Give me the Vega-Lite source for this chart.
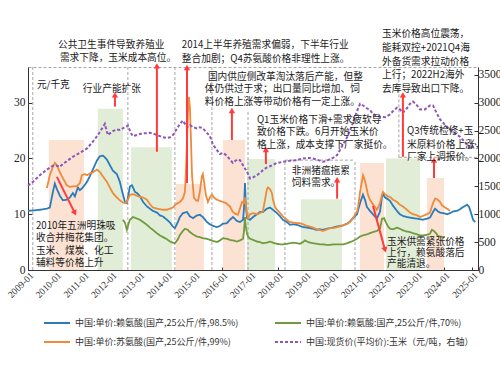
{
  "$schema": "https://vega.github.io/schema/vega-lite/v6.json",
  "width": 450,
  "height": 203,
  "autosize": {"type": "none"},
  "padding": {"left": 28, "top": 67, "right": 22, "bottom": 97},
  "background": "white",
  "title": {"text": "图18：氨基酸价格复盘：短期主要受供需扰动，长期与原材料玉米价格走势趋同", "anchor": "start", "frame": "group", "offset": 41, "dx": -20, "dy": 3, "fontSize": 13, "fontWeight": "bold", "font": "Noto Sans CJK SC", "color": "#000000"},
  "config": {
    "font": "Noto Sans CJK SC",
    "view": {"stroke": "#a6a6a6", "strokeDash": [3, 2], "strokeWidth": 1}
  },
  "datasets": {
    "rects": [
      {"d": "2009-10-03", "d2": "2011-01-07", "top": 23.3, "trend": "上涨"},
      {"d": "2011-07-09", "d2": "2012-06-03", "top": 28.9, "trend": "下跌"},
      {"d": "2012-09-17", "d2": "2014-03-09", "top": 22.0, "trend": "下跌"},
      {"d": "2014-05-01", "d2": "2015-05-04", "top": 15.4, "trend": "上涨"},
      {"d": "2016-01-10", "d2": "2016-10-26", "top": 23.3, "trend": "上涨"},
      {"d": "2016-11-22", "d2": "2017-11-25", "top": 19.9, "trend": "下跌"},
      {"d": "2018-11-02", "d2": "2020-04-24", "top": 12.7, "trend": "下跌"},
      {"d": "2020-12-18", "d2": "2021-10-29", "top": 19.2, "trend": "上涨"},
      {"d": "2021-11-25", "d2": "2023-02-16", "top": 20.0, "trend": "下跌"},
      {"d": "2023-05-17", "d2": "2023-12-28", "top": 16.5, "trend": "上涨"}
    ],
    "frames": [
      {"d": "2009-03-05", "d2": "2009-03-05", "v": 0, "v2": 36.4},
      {"d": "2012-08-07", "d2": "2012-08-07", "v": 0, "v2": 36.4},
      {"d": "2014-04-18", "d2": "2014-04-18", "v": 0, "v2": 36.4},
      {"d": "2015-08-18", "d2": "2015-08-18", "v": 0, "v2": 36.4},
      {"d": "2016-12-05", "d2": "2016-12-05", "v": 0, "v2": 28.5},
      {"d": "2018-04-05", "d2": "2018-04-05", "v": 0, "v2": 19.7},
      {"d": "2020-10-13", "d2": "2020-10-13", "v": 0, "v2": 19.7},
      {"d": "2018-04-05", "d2": "2020-10-13", "v": 19.7, "v2": 19.7},
      {"d": "2022-05-13", "d2": "2022-05-13", "v": 20.2, "v2": 36.4},
      {"d": "2022-05-13", "d2": "2025-03-19", "v": 20.2, "v2": 20.2}
    ],
    "arrows": [
      {"d": "2012-02-19", "d2": "2012-02-19", "v": 29.3, "v2": 31.4},
      {"d": "2013-08-24", "d2": "2013-08-24", "v": 21.2, "v2": 36.6},
      {"d": "2014-09-24", "d2": "2014-09-24", "v": 15.6, "v2": 36.3},
      {"d": "2016-05-07", "d2": "2016-05-07", "v": 23.3, "v2": 28.6},
      {"d": "2017-07-28", "d2": "2017-07-28", "v": 19.0, "v2": 21.6},
      {"d": "2020-02-20", "d2": "2020-02-20", "v": 12.8, "v2": 16.2},
      {"d": "2022-07-05", "d2": "2022-07-05", "v": 20.3, "v2": 31.4},
      {"d": "2023-08-18", "d2": "2023-08-18", "v": 16.5, "v2": 19.7},
      {"d": "2010-01-16", "d2": "2010-09-10", "v": 16.7, "v2": 10.2},
      {"d": "2021-06-06", "d2": "2021-11-12", "v": 11.5, "v2": 3.6}
    ],
    "notes": [
      {"d": "2010-01-30", "v": 40.35, "t": "公共卫生事件导致养殖业"},
      {"d": "2010-02-25", "v": 38.0, "t": "需求下降，玉米成本高位。"},
      {"d": "2014-07-18", "v": 40.35, "t": "2014上半年养殖需求偏弱，下半年行业"},
      {"d": "2014-07-18", "v": 37.8, "t": "整合加剧；Q4苏氨酸价格非理性上涨。"},
      {"d": "2015-06-26", "v": 34.6, "t": "国内供应侧改革淘汰落后产能，但整"},
      {"d": "2015-05-17", "v": 32.5, "t": "体仍供过于求；出口量同比增加、饲"},
      {"d": "2015-05-17", "v": 30.2, "t": "料价格上涨等带动价格有一定上涨。"},
      {"d": "2017-04-01", "v": 26.9, "t": "Q1玉米价格下滑+需求疲软导"},
      {"d": "2017-04-01", "v": 24.7, "t": "致价格下跌。6月开始玉米价"},
      {"d": "2017-04-01", "v": 22.4, "t": "格上涨，成本支撑下厂家挺价。"},
      {"d": "2010-12-24", "v": 32.5, "t": "行业产能扩张"},
      {"d": "2009-04-28", "v": 33.2, "t": "元/千克"},
      {"d": "2009-04-15", "v": 7.9, "t": "2010年五洲明珠吸"},
      {"d": "2009-04-15", "v": 5.7, "t": "收合并梅花集团。"},
      {"d": "2009-04-15", "v": 3.4, "t": "玉米、煤炭、化工"},
      {"d": "2009-04-15", "v": 1.25, "t": "辅料等价格上升"},
      {"d": "2018-07-05", "v": 17.8, "t": "非洲猪瘟拖累"},
      {"d": "2018-07-05", "v": 15.6, "t": "饲料需求。"},
      {"d": "2021-10-03", "v": 42.3, "t": "玉米价格高位震荡，"},
      {"d": "2021-10-03", "v": 39.8, "t": "能耗双控+2021Q4海"},
      {"d": "2021-10-03", "v": 37.3, "t": "外备货需求拉动价格"},
      {"d": "2021-10-03", "v": 35.0, "t": "上行；2022H2海外"},
      {"d": "2021-10-03", "v": 32.5, "t": "去库导致出口下降。"},
      {"d": "2022-08-27", "v": 24.9, "t": "Q3传统检修+玉"},
      {"d": "2022-08-27", "v": 22.4, "t": "米原料价格上涨，"},
      {"d": "2022-08-27", "v": 20.3, "t": "厂家上调报价。"},
      {"d": "2021-12-08", "v": 5.0, "t": "玉米供需紧张价格"},
      {"d": "2021-12-08", "v": 3.05, "t": "上行，赖氨酸落后"},
      {"d": "2021-12-08", "v": 1.1, "t": "产能清退。"}
    ],
    "lys985": [
      {"d": "2009-01-01", "v": 10.6}, {"d": "2009-04-01", "v": 10.7}, {"d": "2009-06-06", "v": 10.8}, {"d": "2009-09-07", "v": 11.0},
      {"d": "2009-10-15", "v": 11.2}, {"d": "2009-11-25", "v": 14.0}, {"d": "2009-12-20", "v": 15.5}, {"d": "2010-01-16", "v": 14.5},
      {"d": "2010-02-25", "v": 13.3}, {"d": "2010-04-04", "v": 12.5}, {"d": "2010-05-26", "v": 12.6}, {"d": "2010-07-05", "v": 13.0},
      {"d": "2010-08-14", "v": 13.8}, {"d": "2010-09-10", "v": 13.2}, {"d": "2010-10-19", "v": 14.8}, {"d": "2010-11-15", "v": 14.3},
      {"d": "2010-12-24", "v": 14.8}, {"d": "2011-02-16", "v": 15.8}, {"d": "2011-03-25", "v": 16.8}, {"d": "2011-05-04", "v": 18.0},
      {"d": "2011-06-26", "v": 19.6}, {"d": "2011-08-04", "v": 20.4}, {"d": "2011-09-13", "v": 20.5}, {"d": "2011-10-09", "v": 20.2},
      {"d": "2011-11-05", "v": 19.8}, {"d": "2011-12-14", "v": 18.8}, {"d": "2012-01-23", "v": 17.8}, {"d": "2012-03-15", "v": 17.2},
      {"d": "2012-04-24", "v": 15.8}, {"d": "2012-05-20", "v": 14.3}, {"d": "2012-06-29", "v": 12.2}, {"d": "2012-07-25", "v": 12.0},
      {"d": "2012-09-04", "v": 15.0}, {"d": "2012-09-30", "v": 15.2}, {"d": "2012-11-09", "v": 14.0}, {"d": "2012-12-05", "v": 13.8},
      {"d": "2013-01-14", "v": 13.2}, {"d": "2013-02-23", "v": 12.2}, {"d": "2013-04-15", "v": 11.4}, {"d": "2013-05-24", "v": 11.0},
      {"d": "2013-07-02", "v": 10.6}, {"d": "2013-08-24", "v": 10.3}, {"d": "2013-10-03", "v": 9.8}, {"d": "2013-11-12", "v": 9.6},
      {"d": "2014-01-04", "v": 9.0}, {"d": "2014-02-13", "v": 8.5}, {"d": "2014-03-22", "v": 7.8}, {"d": "2014-04-18", "v": 7.5},
      {"d": "2014-05-27", "v": 8.6}, {"d": "2014-06-23", "v": 9.5}, {"d": "2014-08-01", "v": 10.2}, {"d": "2014-09-24", "v": 10.4},
      {"d": "2014-11-02", "v": 9.6}, {"d": "2014-12-11", "v": 9.3}, {"d": "2015-02-03", "v": 9.8}, {"d": "2015-03-12", "v": 9.9},
      {"d": "2015-04-21", "v": 9.5}, {"d": "2015-06-13", "v": 8.6}, {"d": "2015-07-22", "v": 8.2}, {"d": "2015-09-01", "v": 7.9},
      {"d": "2015-10-23", "v": 7.7}, {"d": "2015-12-01", "v": 7.9}, {"d": "2016-01-10", "v": 8.3}, {"d": "2016-03-02", "v": 8.4},
      {"d": "2016-04-11", "v": 9.0}, {"d": "2016-05-20", "v": 9.5}, {"d": "2016-07-12", "v": 8.8}, {"d": "2016-08-21", "v": 8.6},
      {"d": "2016-09-30", "v": 9.0}, {"d": "2016-10-13", "v": 11.0}, {"d": "2016-10-26", "v": 15.6}, {"d": "2016-11-09", "v": 11.0},
      {"d": "2016-11-22", "v": 9.3}, {"d": "2017-01-01", "v": 9.0}, {"d": "2017-02-10", "v": 9.5}, {"d": "2017-04-01", "v": 10.0},
      {"d": "2017-05-10", "v": 10.4}, {"d": "2017-06-19", "v": 10.4}, {"d": "2017-08-11", "v": 11.0}, {"d": "2017-09-20", "v": 11.2},
      {"d": "2017-10-29", "v": 10.8}, {"d": "2017-12-21", "v": 10.2}, {"d": "2018-02-01", "v": 9.6}, {"d": "2018-03-09", "v": 9.0},
      {"d": "2018-05-01", "v": 8.6}, {"d": "2018-06-10", "v": 8.1}, {"d": "2018-07-18", "v": 8.2}, {"d": "2018-09-10", "v": 8.1},
      {"d": "2018-10-19", "v": 7.9}, {"d": "2018-11-29", "v": 7.7}, {"d": "2019-01-20", "v": 7.6}, {"d": "2019-02-28", "v": 7.5},
      {"d": "2019-04-08", "v": 7.4}, {"d": "2019-05-30", "v": 7.2}, {"d": "2019-07-09", "v": 7.3}, {"d": "2019-08-18", "v": 7.2},
      {"d": "2019-10-10", "v": 7.4}, {"d": "2019-11-19", "v": 7.5}, {"d": "2019-12-28", "v": 7.6}, {"d": "2020-02-20", "v": 7.8},
      {"d": "2020-03-29", "v": 7.9}, {"d": "2020-05-07", "v": 8.0}, {"d": "2020-06-30", "v": 8.3}, {"d": "2020-08-08", "v": 8.7},
      {"d": "2020-09-17", "v": 9.3}, {"d": "2020-11-09", "v": 10.0}, {"d": "2020-12-18", "v": 12.0}, {"d": "2021-01-13", "v": 13.0},
      {"d": "2021-01-26", "v": 13.5}, {"d": "2021-02-23", "v": 12.5}, {"d": "2021-03-18", "v": 11.3}, {"d": "2021-04-27", "v": 10.6},
      {"d": "2021-06-06", "v": 10.0}, {"d": "2021-07-28", "v": 9.2}, {"d": "2021-09-07", "v": 10.5}, {"d": "2021-10-03", "v": 13.2},
      {"d": "2021-10-16", "v": 13.6}, {"d": "2021-11-12", "v": 13.0}, {"d": "2021-12-08", "v": 12.8}, {"d": "2022-01-16", "v": 12.4},
      {"d": "2022-02-26", "v": 11.5}, {"d": "2022-04-18", "v": 10.6}, {"d": "2022-05-26", "v": 10.0}, {"d": "2022-07-05", "v": 9.7},
      {"d": "2022-08-27", "v": 9.5}, {"d": "2022-10-06", "v": 9.4}, {"d": "2022-11-15", "v": 9.3}, {"d": "2023-01-07", "v": 9.2},
      {"d": "2023-02-16", "v": 9.1}, {"d": "2023-03-25", "v": 9.0}, {"d": "2023-05-17", "v": 9.2}, {"d": "2023-06-26", "v": 9.4},
      {"d": "2023-08-05", "v": 10.4}, {"d": "2023-09-01", "v": 11.0}, {"d": "2023-10-10", "v": 10.5}, {"d": "2023-11-06", "v": 10.3},
      {"d": "2023-12-15", "v": 10.2}, {"d": "2024-02-07", "v": 10.0}, {"d": "2024-03-16", "v": 10.2}, {"d": "2024-04-25", "v": 10.5},
      {"d": "2024-06-16", "v": 10.6}, {"d": "2024-07-25", "v": 10.9}, {"d": "2024-09-04", "v": 11.3}, {"d": "2024-10-26", "v": 11.7},
      {"d": "2024-11-22", "v": 11.3}, {"d": "2024-12-18", "v": 10.2}, {"d": "2025-01-14", "v": 9.0}, {"d": "2025-02-10", "v": 8.6}
    ],
    "thr": [
      {"d": "2009-09-07", "v": 14.7}, {"d": "2009-10-15", "v": 17.0}, {"d": "2009-11-25", "v": 18.5}, {"d": "2009-12-20", "v": 19.2},
      {"d": "2010-01-16", "v": 18.8}, {"d": "2010-02-25", "v": 17.5}, {"d": "2010-04-04", "v": 16.5}, {"d": "2010-05-26", "v": 15.2},
      {"d": "2010-07-05", "v": 14.9}, {"d": "2010-08-14", "v": 15.0}, {"d": "2010-10-06", "v": 15.0}, {"d": "2010-11-15", "v": 15.6},
      {"d": "2010-12-11", "v": 17.0}, {"d": "2011-01-20", "v": 17.2}, {"d": "2011-02-16", "v": 17.0}, {"d": "2011-03-25", "v": 17.3},
      {"d": "2011-05-04", "v": 17.5}, {"d": "2011-06-26", "v": 18.0}, {"d": "2011-08-04", "v": 17.6}, {"d": "2011-09-13", "v": 16.8},
      {"d": "2011-11-05", "v": 15.8}, {"d": "2011-12-14", "v": 14.8}, {"d": "2012-01-23", "v": 13.8}, {"d": "2012-03-15", "v": 13.0},
      {"d": "2012-04-24", "v": 12.5}, {"d": "2012-06-03", "v": 12.1}, {"d": "2012-06-29", "v": 12.0}, {"d": "2012-07-25", "v": 12.2},
      {"d": "2012-09-04", "v": 13.5}, {"d": "2012-10-13", "v": 13.6}, {"d": "2012-12-05", "v": 13.3}, {"d": "2013-01-14", "v": 13.1},
      {"d": "2013-02-23", "v": 13.0}, {"d": "2013-04-15", "v": 12.6}, {"d": "2013-05-24", "v": 11.8}, {"d": "2013-07-02", "v": 11.2},
      {"d": "2013-08-24", "v": 11.0}, {"d": "2013-10-03", "v": 10.9}, {"d": "2013-11-12", "v": 10.8}, {"d": "2014-01-04", "v": 10.8},
      {"d": "2014-02-13", "v": 11.0}, {"d": "2014-03-22", "v": 11.2}, {"d": "2014-05-01", "v": 11.8}, {"d": "2014-05-27", "v": 12.0},
      {"d": "2014-06-23", "v": 12.2}, {"d": "2014-08-01", "v": 12.8}, {"d": "2014-08-28", "v": 14.0}, {"d": "2014-09-11", "v": 18.0},
      {"d": "2014-09-24", "v": 23.0}, {"d": "2014-10-06", "v": 28.0}, {"d": "2014-10-19", "v": 31.0}, {"d": "2014-11-02", "v": 29.0},
      {"d": "2014-11-16", "v": 23.0}, {"d": "2014-11-29", "v": 17.0}, {"d": "2014-12-24", "v": 13.0}, {"d": "2015-01-20", "v": 12.5},
      {"d": "2015-02-16", "v": 12.4}, {"d": "2015-03-12", "v": 14.0}, {"d": "2015-04-08", "v": 16.8}, {"d": "2015-04-21", "v": 17.2},
      {"d": "2015-05-04", "v": 16.0}, {"d": "2015-05-30", "v": 13.5}, {"d": "2015-06-26", "v": 12.2}, {"d": "2015-07-22", "v": 13.0},
      {"d": "2015-08-18", "v": 13.5}, {"d": "2015-09-14", "v": 13.0}, {"d": "2015-10-23", "v": 12.6}, {"d": "2015-12-01", "v": 12.4},
      {"d": "2016-01-10", "v": 12.2}, {"d": "2016-02-19", "v": 12.0}, {"d": "2016-03-15", "v": 11.7}, {"d": "2016-04-11", "v": 11.4},
      {"d": "2016-05-20", "v": 10.4}, {"d": "2016-06-29", "v": 10.0}, {"d": "2016-07-25", "v": 9.9}, {"d": "2016-08-21", "v": 11.0},
      {"d": "2016-09-17", "v": 12.2}, {"d": "2016-10-13", "v": 12.0}, {"d": "2016-10-26", "v": 13.0}, {"d": "2016-11-22", "v": 10.0},
      {"d": "2016-12-05", "v": 9.3}, {"d": "2017-01-01", "v": 10.0}, {"d": "2017-02-10", "v": 10.2}, {"d": "2017-04-01", "v": 10.0},
      {"d": "2017-05-10", "v": 10.2}, {"d": "2017-06-19", "v": 10.5}, {"d": "2017-07-15", "v": 12.5}, {"d": "2017-08-11", "v": 14.5},
      {"d": "2017-08-24", "v": 14.8}, {"d": "2017-09-20", "v": 14.5}, {"d": "2017-10-15", "v": 13.8}, {"d": "2017-10-29", "v": 12.6},
      {"d": "2017-11-25", "v": 11.3}, {"d": "2017-12-21", "v": 10.8}, {"d": "2018-02-01", "v": 10.2}, {"d": "2018-03-09", "v": 9.6},
      {"d": "2018-05-01", "v": 9.0}, {"d": "2018-06-10", "v": 8.6}, {"d": "2018-07-18", "v": 8.5}, {"d": "2018-09-10", "v": 8.4},
      {"d": "2018-10-19", "v": 8.4}, {"d": "2018-11-29", "v": 8.2}, {"d": "2019-01-20", "v": 7.9}, {"d": "2019-02-28", "v": 7.8},
      {"d": "2019-04-08", "v": 7.6}, {"d": "2019-05-30", "v": 7.3}, {"d": "2019-07-09", "v": 7.2}, {"d": "2019-08-18", "v": 7.0},
      {"d": "2019-10-10", "v": 7.3}, {"d": "2019-11-19", "v": 7.5}, {"d": "2019-12-28", "v": 7.5}, {"d": "2020-02-20", "v": 7.7},
      {"d": "2020-03-29", "v": 7.8}, {"d": "2020-05-07", "v": 8.0}, {"d": "2020-06-30", "v": 8.3}, {"d": "2020-08-08", "v": 8.6},
      {"d": "2020-09-17", "v": 9.3}, {"d": "2020-10-13", "v": 9.9}, {"d": "2020-11-09", "v": 10.5}, {"d": "2020-11-22", "v": 11.3},
      {"d": "2020-12-18", "v": 14.0}, {"d": "2021-01-13", "v": 16.0}, {"d": "2021-01-26", "v": 17.0}, {"d": "2021-02-10", "v": 16.5},
      {"d": "2021-03-05", "v": 15.3}, {"d": "2021-04-01", "v": 13.5}, {"d": "2021-04-27", "v": 12.6}, {"d": "2021-06-06", "v": 11.8},
      {"d": "2021-07-02", "v": 11.3}, {"d": "2021-07-28", "v": 10.8}, {"d": "2021-09-07", "v": 12.0}, {"d": "2021-10-03", "v": 13.5},
      {"d": "2021-10-16", "v": 14.0}, {"d": "2021-11-12", "v": 13.6}, {"d": "2021-12-21", "v": 13.2}, {"d": "2022-01-16", "v": 13.1},
      {"d": "2022-02-26", "v": 12.6}, {"d": "2022-04-18", "v": 12.2}, {"d": "2022-05-26", "v": 11.7}, {"d": "2022-07-05", "v": 11.4},
      {"d": "2022-08-27", "v": 10.8}, {"d": "2022-10-06", "v": 10.3}, {"d": "2022-11-15", "v": 10.0}, {"d": "2023-01-07", "v": 9.8},
      {"d": "2023-02-16", "v": 9.5}, {"d": "2023-03-25", "v": 9.7}, {"d": "2023-05-17", "v": 10.0}, {"d": "2023-06-26", "v": 10.3},
      {"d": "2023-08-05", "v": 12.0}, {"d": "2023-09-01", "v": 12.8}, {"d": "2023-09-27", "v": 12.7}, {"d": "2023-11-06", "v": 12.2},
      {"d": "2023-12-02", "v": 11.6}, {"d": "2024-01-10", "v": 11.2}, {"d": "2024-02-07", "v": 11.0}, {"d": "2024-03-16", "v": 10.6}
    ],
    "lys70": [
      {"d": "2012-06-03", "v": 9.0}, {"d": "2012-06-29", "v": 8.5}, {"d": "2012-07-25", "v": 7.2}, {"d": "2012-08-21", "v": 8.5},
      {"d": "2012-09-04", "v": 9.0}, {"d": "2012-10-13", "v": 9.5}, {"d": "2012-11-22", "v": 9.3}, {"d": "2013-01-14", "v": 9.0},
      {"d": "2013-02-23", "v": 8.6}, {"d": "2013-04-15", "v": 8.1}, {"d": "2013-05-24", "v": 7.6}, {"d": "2013-07-02", "v": 7.2},
      {"d": "2013-08-24", "v": 6.6}, {"d": "2013-10-03", "v": 6.2}, {"d": "2013-11-12", "v": 5.9}, {"d": "2014-01-04", "v": 5.5},
      {"d": "2014-02-13", "v": 5.1}, {"d": "2014-03-22", "v": 4.9}, {"d": "2014-04-18", "v": 4.8}, {"d": "2014-05-27", "v": 5.5},
      {"d": "2014-06-23", "v": 6.3}, {"d": "2014-08-01", "v": 7.0}, {"d": "2014-08-28", "v": 7.4}, {"d": "2014-10-06", "v": 7.2},
      {"d": "2014-11-02", "v": 6.8}, {"d": "2014-12-11", "v": 6.4}, {"d": "2015-02-03", "v": 6.0}, {"d": "2015-03-12", "v": 5.9},
      {"d": "2015-04-21", "v": 5.7}, {"d": "2015-06-13", "v": 5.6}, {"d": "2015-07-22", "v": 5.4}, {"d": "2015-09-01", "v": 5.2},
      {"d": "2015-10-23", "v": 5.0}, {"d": "2015-12-01", "v": 5.3}, {"d": "2016-01-10", "v": 5.7}, {"d": "2016-03-02", "v": 5.6},
      {"d": "2016-04-11", "v": 5.4}, {"d": "2016-05-20", "v": 5.3}, {"d": "2016-07-12", "v": 5.1}, {"d": "2016-08-21", "v": 5.3},
      {"d": "2016-09-30", "v": 5.6}, {"d": "2016-10-13", "v": 7.0}, {"d": "2016-10-26", "v": 9.5}, {"d": "2016-11-09", "v": 7.5},
      {"d": "2016-11-22", "v": 6.5}, {"d": "2016-12-05", "v": 6.0}, {"d": "2017-01-01", "v": 5.6}, {"d": "2017-02-10", "v": 5.4},
      {"d": "2017-04-01", "v": 5.1}, {"d": "2017-05-10", "v": 5.0}, {"d": "2017-06-19", "v": 4.8}, {"d": "2017-08-11", "v": 4.9},
      {"d": "2017-09-20", "v": 5.1}, {"d": "2017-10-29", "v": 4.9}, {"d": "2017-12-21", "v": 4.7}, {"d": "2018-02-01", "v": 4.6},
      {"d": "2018-03-09", "v": 4.6}, {"d": "2018-05-01", "v": 4.7}, {"d": "2018-06-10", "v": 4.8}, {"d": "2018-07-18", "v": 4.9},
      {"d": "2018-09-10", "v": 4.8}, {"d": "2018-10-19", "v": 4.7}, {"d": "2018-11-29", "v": 5.0}, {"d": "2018-12-24", "v": 5.3},
      {"d": "2019-01-20", "v": 5.1}, {"d": "2019-02-28", "v": 4.9}, {"d": "2019-04-08", "v": 4.8}, {"d": "2019-05-30", "v": 4.7},
      {"d": "2019-07-09", "v": 4.6}, {"d": "2019-08-18", "v": 4.6}, {"d": "2019-10-10", "v": 4.5}, {"d": "2019-11-19", "v": 4.5},
      {"d": "2019-12-28", "v": 4.6}, {"d": "2020-02-20", "v": 4.6}, {"d": "2020-03-29", "v": 4.6}, {"d": "2020-05-07", "v": 4.6},
      {"d": "2020-06-30", "v": 4.8}, {"d": "2020-08-08", "v": 5.0}, {"d": "2020-09-17", "v": 5.2}, {"d": "2020-11-09", "v": 5.6},
      {"d": "2020-12-18", "v": 6.0}, {"d": "2021-01-26", "v": 6.2}, {"d": "2021-03-18", "v": 6.4}, {"d": "2021-04-27", "v": 6.6},
      {"d": "2021-06-06", "v": 6.8}, {"d": "2021-07-28", "v": 7.0}, {"d": "2021-09-07", "v": 7.5}, {"d": "2021-10-03", "v": 9.2},
      {"d": "2021-10-29", "v": 9.3}, {"d": "2021-11-25", "v": 8.5}, {"d": "2021-12-21", "v": 7.8}, {"d": "2022-01-16", "v": 7.4},
      {"d": "2022-02-26", "v": 7.3}, {"d": "2022-04-18", "v": 7.6}, {"d": "2022-05-26", "v": 7.4}, {"d": "2022-07-05", "v": 7.1},
      {"d": "2022-08-27", "v": 6.9}, {"d": "2022-10-06", "v": 6.8}, {"d": "2022-11-15", "v": 6.6}, {"d": "2023-01-07", "v": 6.4},
      {"d": "2023-02-16", "v": 6.2}, {"d": "2023-03-25", "v": 6.2}, {"d": "2023-05-17", "v": 6.3}, {"d": "2023-06-26", "v": 6.5},
      {"d": "2023-07-22", "v": 7.2}, {"d": "2023-08-18", "v": 7.0}, {"d": "2023-09-14", "v": 6.6}, {"d": "2023-10-10", "v": 6.1},
      {"d": "2023-11-06", "v": 6.0}, {"d": "2023-12-15", "v": 5.9}, {"d": "2024-01-10", "v": 5.9}
    ],
    "corn": [
      {"d": "2009-01-01", "v": 1510}, {"d": "2009-03-05", "v": 1580}, {"d": "2009-06-06", "v": 1700}, {"d": "2009-09-07", "v": 1800},
      {"d": "2009-11-25", "v": 1870}, {"d": "2010-01-16", "v": 1870}, {"d": "2010-02-25", "v": 1850}, {"d": "2010-04-04", "v": 1900},
      {"d": "2010-05-26", "v": 1950}, {"d": "2010-08-14", "v": 2030}, {"d": "2010-11-15", "v": 2100}, {"d": "2011-02-16", "v": 2180},
      {"d": "2011-05-04", "v": 2300}, {"d": "2011-07-09", "v": 2420}, {"d": "2011-09-13", "v": 2560}, {"d": "2011-10-09", "v": 2620},
      {"d": "2011-11-05", "v": 2480}, {"d": "2011-11-18", "v": 2420}, {"d": "2011-12-14", "v": 2450}, {"d": "2012-01-23", "v": 2490},
      {"d": "2012-03-15", "v": 2520}, {"d": "2012-04-24", "v": 2510}, {"d": "2012-06-29", "v": 2560}, {"d": "2012-08-07", "v": 2590},
      {"d": "2012-09-17", "v": 2450}, {"d": "2012-10-13", "v": 2400}, {"d": "2012-12-05", "v": 2420}, {"d": "2013-01-14", "v": 2440},
      {"d": "2013-02-23", "v": 2450}, {"d": "2013-04-15", "v": 2450}, {"d": "2013-05-24", "v": 2460}, {"d": "2013-07-02", "v": 2450},
      {"d": "2013-08-24", "v": 2420}, {"d": "2013-10-03", "v": 2400}, {"d": "2013-11-12", "v": 2380}, {"d": "2014-01-04", "v": 2370},
      {"d": "2014-02-13", "v": 2380}, {"d": "2014-03-22", "v": 2420}, {"d": "2014-05-14", "v": 2530}, {"d": "2014-06-23", "v": 2620},
      {"d": "2014-08-01", "v": 2680}, {"d": "2014-08-28", "v": 2620}, {"d": "2014-09-24", "v": 2560}, {"d": "2014-11-02", "v": 2600},
      {"d": "2014-12-11", "v": 2560}, {"d": "2015-02-03", "v": 2540}, {"d": "2015-03-12", "v": 2560}, {"d": "2015-04-21", "v": 2540},
      {"d": "2015-06-13", "v": 2460}, {"d": "2015-07-22", "v": 2400}, {"d": "2015-09-01", "v": 2250}, {"d": "2015-10-23", "v": 2150},
      {"d": "2015-12-01", "v": 2080}, {"d": "2016-01-10", "v": 2100}, {"d": "2016-03-02", "v": 2050}, {"d": "2016-04-11", "v": 1980},
      {"d": "2016-05-20", "v": 1920}, {"d": "2016-07-12", "v": 1980}, {"d": "2016-08-21", "v": 1970}, {"d": "2016-09-30", "v": 1880},
      {"d": "2016-11-22", "v": 1760}, {"d": "2017-01-01", "v": 1640}, {"d": "2017-02-10", "v": 1660}, {"d": "2017-04-01", "v": 1700},
      {"d": "2017-05-10", "v": 1740}, {"d": "2017-06-19", "v": 1790}, {"d": "2017-08-11", "v": 1840}, {"d": "2017-09-20", "v": 1860},
      {"d": "2017-12-21", "v": 1920}, {"d": "2018-03-09", "v": 1940}, {"d": "2018-06-10", "v": 1960}, {"d": "2018-09-10", "v": 1970},
      {"d": "2018-11-29", "v": 2000}, {"d": "2019-02-28", "v": 2010}, {"d": "2019-05-30", "v": 1980}, {"d": "2019-08-18", "v": 1940},
      {"d": "2019-10-10", "v": 1960}, {"d": "2019-11-19", "v": 1990}, {"d": "2019-12-28", "v": 2010}, {"d": "2020-02-20", "v": 2060},
      {"d": "2020-03-29", "v": 2150}, {"d": "2020-05-07", "v": 2250}, {"d": "2020-06-30", "v": 2380}, {"d": "2020-08-08", "v": 2500},
      {"d": "2020-09-17", "v": 2650}, {"d": "2020-11-09", "v": 2850}, {"d": "2020-12-18", "v": 2980}, {"d": "2021-01-26", "v": 2950},
      {"d": "2021-03-18", "v": 2900}, {"d": "2021-04-27", "v": 2870}, {"d": "2021-06-06", "v": 2800}, {"d": "2021-07-28", "v": 2760},
      {"d": "2021-09-07", "v": 2750}, {"d": "2021-11-12", "v": 2740}, {"d": "2022-01-16", "v": 2790}, {"d": "2022-02-26", "v": 2850},
      {"d": "2022-04-18", "v": 2910}, {"d": "2022-05-26", "v": 2880}, {"d": "2022-07-05", "v": 2820}, {"d": "2022-08-27", "v": 2900},
      {"d": "2022-10-06", "v": 2980}, {"d": "2022-11-15", "v": 3020}, {"d": "2023-01-07", "v": 2950}, {"d": "2023-02-16", "v": 2880},
      {"d": "2023-04-21", "v": 2880}, {"d": "2023-06-26", "v": 2950}, {"d": "2023-08-05", "v": 2950}, {"d": "2023-09-27", "v": 2800},
      {"d": "2023-11-06", "v": 2700}, {"d": "2024-01-10", "v": 2600}, {"d": "2024-03-16", "v": 2520}, {"d": "2024-05-20", "v": 2450},
      {"d": "2024-07-25", "v": 2390}, {"d": "2024-09-30", "v": 2290}, {"d": "2024-12-05", "v": 2170}, {"d": "2025-01-14", "v": 2230},
      {"d": "2025-02-23", "v": 2260}
    ]
  },
  "encoding": {
    "x": {
      "field": "d", "type": "temporal",
      "scale": {"domain": [{"year": 2009, "month": 1, "date": 1}, {"year": 2025, "month": 3, "date": 19}]},
      "axis": {
        "title": null, "grid": false, "format": "%Y-%m", "labelAngle": -45, "labelOverlap": false, "labelFlush": false, "labelBound": false,
        "values": [{"year": 2009, "month": 1, "date": 1}, {"year": 2010, "month": 1, "date": 1}, {"year": 2011, "month": 1, "date": 1}, {"year": 2012, "month": 1, "date": 1}, {"year": 2013, "month": 1, "date": 1}, {"year": 2014, "month": 1, "date": 1}, {"year": 2015, "month": 1, "date": 1}, {"year": 2016, "month": 1, "date": 1}, {"year": 2017, "month": 1, "date": 1}, {"year": 2018, "month": 1, "date": 1}, {"year": 2019, "month": 1, "date": 1}, {"year": 2020, "month": 1, "date": 1}, {"year": 2021, "month": 1, "date": 1}, {"year": 2022, "month": 1, "date": 1}, {"year": 2023, "month": 1, "date": 1}, {"year": 2024, "month": 1, "date": 1}, {"year": 2025, "month": 1, "date": 1}],
        "labelFont": "Liberation Serif", "labelFontSize": 9.5, "labelColor": "#333333", "labelPadding": 3,
        "domainColor": "#333333", "tickColor": "#333333", "tickSize": -3
      }
    }
  },
  "layer": [
    {
      "layer": [
        {
          "data": {"name": "rects"},
          "mark": {"type": "rect"},
          "encoding": {
            "x2": {"field": "d2"},
            "y": {"field": "top", "type": "quantitative", "scale": {"domain": [0, 36.4], "nice": false},
              "axis": {"orient": "left", "title": null, "grid": false, "values": [0, 5, 10, 15, 20, 25, 30, 35], "labelFont": "Liberation Serif", "labelFontSize": 11.5, "labelColor": "#222222", "labelPadding": 7, "domainColor": "#333333", "tickColor": "#333333", "tickSize": -4}},
            "y2": {"datum": 0},
            "fill": {"field": "trend", "type": "nominal", "scale": {"domain": ["上涨", "下跌"], "range": ["#FBE2D3", "#E2EDD7"]}, "legend": null}
          }
        },
        {
          "data": {"name": "frames"},
          "mark": {"type": "rule", "color": "#a6a6a6", "strokeDash": [3, 2], "strokeWidth": 1},
          "encoding": {
            "x2": {"field": "d2"},
            "y": {"field": "v", "type": "quantitative", "scale": {"domain": [0, 36.4], "nice": false}},
            "y2": {"field": "v2"}
          }
        },
        {
          "data": {"name": "lys985"},
          "mark": {"type": "line", "strokeWidth": 1.8},
          "encoding": {
            "y": {"field": "v", "type": "quantitative", "scale": {"domain": [0, 36.4], "nice": false}},
            "color": {"datum": "中国:单价:赖氨酸(国产,25公斤/件,98.5%)", "type": "nominal",
              "scale": {"domain": ["中国:单价:赖氨酸(国产,25公斤/件,98.5%)", "中国:单价:赖氨酸:国产,25公斤/件,70%)", "中国:单价:苏氨酸(国产,25公斤/件,99%)", "中国:现货价(平均价):玉米（元/吨，右轴）"], "range": ["#2B7BBA", "#6E9B3E", "#EE8A3A", "#8D56B8"]},
              "legend": {"title": null, "orient": "none", "legendX": 15, "legendY": 242, "direction": "horizontal", "columns": 2, "symbolType": "stroke", "symbolSize": 676, "symbolStrokeWidth": 2, "labelFont": "Noto Sans CJK SC", "labelFontSize": 9, "labelColor": "#333333", "labelLimit": 400, "columnPadding": 32, "rowPadding": -7, "labelOffset": 4}},
            "strokeDash": {"datum": "中国:单价:赖氨酸(国产,25公斤/件,98.5%)", "type": "nominal",
              "scale": {"domain": ["中国:单价:赖氨酸(国产,25公斤/件,98.5%)", "中国:单价:赖氨酸:国产,25公斤/件,70%)", "中国:单价:苏氨酸(国产,25公斤/件,99%)", "中国:现货价(平均价):玉米（元/吨，右轴）"], "range": [[1, 0], [1, 0], [1, 0], [3, 2]]},
              "legend": {"title": null, "orient": "none", "legendX": 15, "legendY": 242, "direction": "horizontal", "columns": 2, "symbolType": "stroke", "symbolSize": 676, "symbolStrokeWidth": 2, "labelFont": "Noto Sans CJK SC", "labelFontSize": 9, "labelColor": "#333333", "labelLimit": 400, "columnPadding": 32, "rowPadding": -7, "labelOffset": 4}}
          }
        },
        {
          "data": {"name": "lys70"},
          "mark": {"type": "line", "strokeWidth": 1.8},
          "encoding": {
            "y": {"field": "v", "type": "quantitative", "scale": {"domain": [0, 36.4], "nice": false}},
            "color": {"datum": "中国:单价:赖氨酸:国产,25公斤/件,70%)", "type": "nominal"},
            "strokeDash": {"datum": "中国:单价:赖氨酸:国产,25公斤/件,70%)", "type": "nominal"}
          }
        },
        {
          "data": {"name": "thr"},
          "mark": {"type": "line", "strokeWidth": 1.8},
          "encoding": {
            "y": {"field": "v", "type": "quantitative", "scale": {"domain": [0, 36.4], "nice": false}},
            "color": {"datum": "中国:单价:苏氨酸(国产,25公斤/件,99%)", "type": "nominal"},
            "strokeDash": {"datum": "中国:单价:苏氨酸(国产,25公斤/件,99%)", "type": "nominal"}
          }
        }
      ]
    },
    {
      "data": {"name": "corn"},
      "mark": {"type": "line", "strokeWidth": 2},
      "encoding": {
        "y": {"field": "v", "type": "quantitative", "scale": {"domain": [0, 3640], "nice": false},
          "axis": {"orient": "right", "title": null, "grid": false, "format": "d", "values": [0, 500, 1000, 1500, 2000, 2500, 3000, 3500], "labelFont": "Liberation Serif", "labelFontSize": 11.5, "labelColor": "#222222", "labelPadding": 4, "domainColor": "#333333", "tickColor": "#333333", "tickSize": -4}},
        "color": {"datum": "中国:现货价(平均价):玉米（元/吨，右轴）", "type": "nominal"},
        "strokeDash": {"datum": "中国:现货价(平均价):玉米（元/吨，右轴）", "type": "nominal"}
      }
    },
    {
      "layer": [
        {
          "data": {"name": "arrows"},
          "mark": {"type": "rule", "color": "#FF3B3B", "strokeWidth": 2},
          "encoding": {
            "x2": {"field": "d2"},
            "y": {"field": "v", "type": "quantitative", "scale": {"domain": [0, 36.4], "nice": false}, "axis": null},
            "y2": {"field": "v2"}
          }
        },
        {
          "data": {"name": "arrows"},
          "transform": [{"filter": "datum.v2 > datum.v"}],
          "mark": {"type": "point", "shape": "triangle-up", "filled": true, "color": "#FF3B3B", "size": 40, "opacity": 1},
          "encoding": {
            "x": {"field": "d2", "type": "temporal"},
            "y": {"field": "v2", "type": "quantitative", "scale": {"domain": [0, 36.4], "nice": false}, "axis": null}
          }
        },
        {
          "data": {"name": "arrows"},
          "transform": [{"filter": "datum.v2 < datum.v && datum.v > 12"}],
          "mark": {"type": "point", "shape": "triangle-down", "filled": true, "color": "#FF3B3B", "size": 40, "opacity": 1, "angle": 333},
          "encoding": {
            "x": {"field": "d2", "type": "temporal"},
            "y": {"field": "v2", "type": "quantitative", "scale": {"domain": [0, 36.4], "nice": false}, "axis": null}
          }
        },
        {
          "data": {"name": "arrows"},
          "transform": [{"filter": "datum.v2 < datum.v && datum.v < 12"}],
          "mark": {"type": "point", "shape": "triangle-down", "filled": true, "color": "#FF3B3B", "size": 40, "opacity": 1, "angle": 345},
          "encoding": {
            "x": {"field": "d2", "type": "temporal"},
            "y": {"field": "v2", "type": "quantitative", "scale": {"domain": [0, 36.4], "nice": false}, "axis": null}
          }
        },
        {
          "data": {"name": "notes"},
          "mark": {"type": "text", "align": "left", "baseline": "middle", "fontSize": 9.7, "font": "Noto Sans CJK SC", "color": "#1a1a1a"},
          "encoding": {
            "y": {"field": "v", "type": "quantitative", "scale": {"domain": [0, 36.4], "nice": false}, "axis": null},
            "text": {"field": "t"}
          }
        }
      ]
    }
  ],
  "resolve": {"scale": {"y": "independent"}}
}
